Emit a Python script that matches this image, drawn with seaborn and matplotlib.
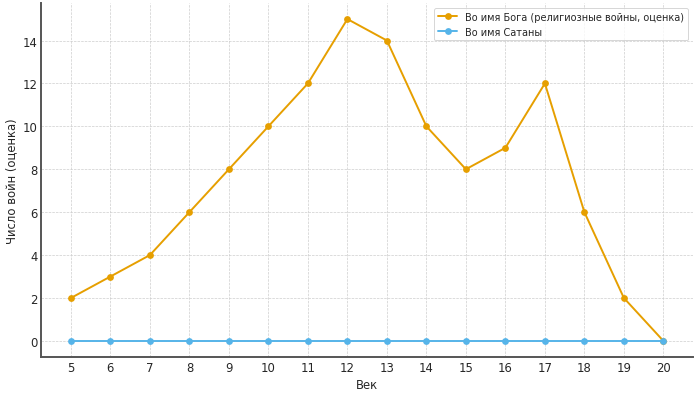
import numpy as np
import matplotlib
matplotlib.use("Agg")
import matplotlib.pyplot as plt
import seaborn as sns
import pandas as pd

centuries = list(range(5, 21))
god_wars = [2, 3, 4, 6, 8, 10, 12, 15, 14, 10, 8, 9, 12, 6, 2, 0]
satan_wars = [0] * 16

label_god = "Во имя Бога (религиозные войны, оценка)"
label_satan = "Во имя Сатаны"

df = pd.DataFrame({
    "Век": centuries * 2,
    "Войны": god_wars + satan_wars,
    "Серия": [label_god] * 16 + [label_satan] * 16,
})

sns.set_style("white")
plt.rcParams['font.family'] = ['DejaVu Sans']

# 10 x 5.657 in at 70 dpi -> 700 x 396 px
fig, ax = plt.subplots(figsize=(10, 5.657), dpi=70)
sns.lineplot(data=df, x="Век", y="Войны", hue="Серия", marker="o",
             palette=["#E69F00", "#56B4E9"], markersize=7,
             markeredgewidth=0, linewidth=2, ax=ax)

ax.set_xticks(centuries)
ax.set_xlabel("Век", fontsize=12)
ax.set_ylabel("Число войн (оценка)", fontsize=12)
ax.tick_params(axis="both", labelsize=12, length=0, pad=4)
ax.grid(True, linestyle="--", linewidth=0.7, color="#cccccc")
sns.despine(ax=ax)
for s in ["left", "bottom"]:
    ax.spines[s].set_color("#555555")
    ax.spines[s].set_linewidth(2)

ax.legend(title=None, loc="upper right", fontsize=10, frameon=True)

fig.subplots_adjust(left=0.059, right=0.99, top=0.99, bottom=0.096)
fig.savefig("out.png", dpi=70)
